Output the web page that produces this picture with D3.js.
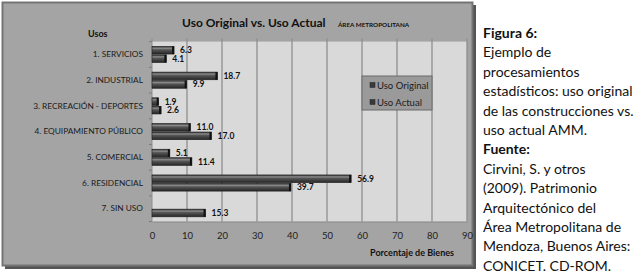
<!DOCTYPE html>
<html>
<head>
<meta charset="utf-8">
<script src="https://cdn.jsdelivr.net/npm/d3@7"></script>
<style>
  body { margin: 0; background: #fff; }
  svg text { font-family: Lato, "Open Sans", sans-serif; }
</style>
</head>
<body>
<svg id="chart"></svg>
<script>
// data
var categories = ["1. SERVICIOS", "2. INDUSTRIAL", "3. RECREACIÓN - DEPORTES",
                  "4. EQUIPAMIENTO PÚBLICO", "5. COMERCIAL", "6. RESIDENCIAL", "7. SIN USO"]
var usoOriginal = [6.3, 18.7, 1.9, 11.0, 5.1, 56.9, null]
var usoActual = [4.1, 9.9, 2.6, 17.0, 11.4, 39.7, 15.3]
var seriesNames = ["Uso Original", "Uso Actual"]
var xTicks = [0, 10, 20, 30, 40, 50, 60, 70, 80, 90]

var captionLines = [
  {t: "Figura 6:", b: true},
  {t: "Ejemplo de"},
  {t: "procesamientos"},
  {t: "estadísticos: uso original"},
  {t: "de las construcciones vs."},
  {t: "uso actual AMM."},
  {t: "Fuente:", b: true},
  {t: "Cirvini, S. y otros"},
  {t: "(2009). Patrimonio"},
  {t: "Arquitectónico del"},
  {t: "Área Metropolitana de"},
  {t: "Mendoza, Buenos Aires:"},
  {t: "CONICET. CD-ROM."}
]

var dimensions = {
    width: 642,
    height: 275,
    plot: { left: 152, right: 467, top: 41.6, bottom: 221.6 }
}

var svg = d3.select("#chart")
            .attr("width", dimensions.width)
            .attr("height", dimensions.height)

var defs = svg.append("defs")
var grad = defs.append("linearGradient")
               .attr("id", "barGrad")
               .attr("x1", 0).attr("y1", 0).attr("x2", 0).attr("y2", 1)
grad.append("stop").attr("offset", "0%").attr("stop-color", "#2e2e2e")
grad.append("stop").attr("offset", "25%").attr("stop-color", "#8a8a8a")
grad.append("stop").attr("offset", "45%").attr("stop-color", "#555")
grad.append("stop").attr("offset", "100%").attr("stop-color", "#262626")

// frame with shadow
svg.append("rect")
   .attr("x", 5).attr("y", 5).attr("width", 471).attr("height", 264)
   .attr("fill", "#555")
svg.append("rect")
   .attr("x", 2.5).attr("y", 2.5).attr("width", 470).attr("height", 263)
   .attr("fill", "#a4a4a4")
   .attr("stroke", "#747474")
   .attr("stroke-width", 2)

var p = dimensions.plot

var xScale = d3.scaleLinear()
               .domain([0, 90])
               .range([p.left, p.right])

var yScale = d3.scaleBand()
               .domain(categories)
               .range([p.top, p.bottom])
               .paddingInner(0.34)
               .paddingOuter(0.17)

var subScale = d3.scaleBand()
                 .domain(seriesNames)
                 .range([0, yScale.bandwidth()])

// plot background
svg.append("rect")
   .attr("x", p.left).attr("y", p.top)
   .attr("width", p.right - p.left).attr("height", p.bottom - p.top)
   .attr("fill", "#d9d9d9")

// vertical gridlines
svg.append("g")
   .selectAll("line")
   .data(xTicks.slice(1))
   .enter()
   .append("line")
   .attr("x1", d => xScale(d)).attr("x2", d => xScale(d))
   .attr("y1", p.top - 3).attr("y2", p.bottom)
   .attr("stroke", "#8e8e8e")
   .attr("stroke-width", 1.3)

// axes
var xAxisgen = d3.axisBottom(xScale).tickValues(xTicks).tickSize(0).tickPadding(11)
var xAxis = svg.append("g")
               .attr("transform", `translate(0,${p.bottom})`)
               .call(xAxisgen)
xAxis.select(".domain").attr("stroke", "#8e8e8e")
xAxis.selectAll("text").attr("font-size", 9.5).attr("fill", "#222")
     .style("font-family", "Lato, sans-serif")

var bounds = d3.range(categories.length + 1).map(i => p.top + i * (p.bottom - p.top) / categories.length)
svg.append("g")
   .selectAll("line")
   .data(bounds)
   .enter()
   .append("line")
   .attr("x1", p.left - 3).attr("x2", p.left)
   .attr("y1", d => d).attr("y2", d => d)
   .attr("stroke", "#7a7a7a")
svg.append("line")
   .attr("x1", p.left).attr("x2", p.left)
   .attr("y1", p.top - 3).attr("y2", p.bottom)
   .attr("stroke", "#8e8e8e")

var yAxisgen = d3.axisLeft(yScale).tickSize(0).tickPadding(9)
var yAxis = svg.append("g")
               .attr("transform", `translate(${p.left},0)`)
               .call(yAxisgen)
yAxis.select(".domain").remove()
yAxis.selectAll("text").attr("font-size", 8.3).attr("fill", "#1a1a1a")
     .style("font-family", "Lato, sans-serif")

// bars
var rows = []
categories.forEach((c, i) => {
  rows.push({cat: c, s: seriesNames[0], v: usoOriginal[i]})
  rows.push({cat: c, s: seriesNames[1], v: usoActual[i]})
})
rows = rows.filter(d => d.v !== null)

var bars = svg.append("g")
              .selectAll("g")
              .data(rows)
              .enter()
              .append("g")
              .attr("transform", d => `translate(0,${yScale(d.cat) + subScale(d.s)})`)

bars.append("rect")
    .attr("x", xScale(0))
    .attr("y", 0.4)
    .attr("width", d => xScale(d.v) - xScale(0))
    .attr("height", subScale.bandwidth() - 0.8)
    .attr("fill", "url(#barGrad)")
    .attr("stroke", "#1e1e1e")
    .attr("stroke-width", 0.6)

bars.append("rect")
    .attr("x", d => xScale(d.v) - 2)
    .attr("y", 0.4)
    .attr("width", 2)
    .attr("height", subScale.bandwidth() - 0.8)
    .attr("fill", "#111")

bars.append("text")
    .attr("x", d => xScale(d.v) + 6)
    .attr("y", subScale.bandwidth() / 2 + 3)
    .attr("font-size", 8.5)
    .attr("font-weight", "bold")
    .attr("fill", "#111")
    .text(d => d.v.toFixed(1))

// titles
svg.append("text")
   .attr("x", 182).attr("y", 27)
   .attr("font-size", 12).attr("font-weight", "bold").attr("fill", "#111")
   .text("Uso Original vs. Uso Actual")
svg.append("text")
   .attr("x", 338).attr("y", 26.5)
   .attr("font-size", 6.3).attr("font-weight", "bold").attr("fill", "#111")
   .text("ÁREA METROPOLITANA")
svg.append("text")
   .attr("x", 88).attr("y", 36.5)
   .attr("font-size", 9).attr("font-weight", "bold").attr("fill", "#111")
   .text("Usos")
svg.append("text")
   .attr("x", 454).attr("y", 256)
   .attr("text-anchor", "end")
   .attr("font-size", 9).attr("font-weight", "bold").attr("fill", "#111")
   .text("Porcentaje de Bienes")

// legend
var legend = svg.append("g").attr("transform", "translate(362,76)")
legend.append("rect")
      .attr("width", 70).attr("height", 34)
      .attr("fill", "#9a9a9a").attr("stroke", "#6a6a6a").attr("stroke-width", 1)
var items = legend.selectAll("g.item")
                  .data(seriesNames)
                  .enter()
                  .append("g")
                  .attr("transform", (d, i) => `translate(8,${9 + i * 17})`)
items.append("rect")
     .attr("x", 0).attr("y", -2.5).attr("width", 5).attr("height", 5)
     .attr("fill", "#3a3a3a").attr("stroke", "#222").attr("stroke-width", 0.5)
items.append("text")
     .attr("x", 7).attr("y", 3.5)
     .attr("font-size", 9.5).attr("fill", "#1a1a1a")
     .text(d => d)

// caption on the right
svg.append("g")
   .selectAll("text")
   .data(captionLines)
   .enter()
   .append("text")
   .attr("x", 483)
   .attr("y", (d, i) => 38 + i * 19.4)
   .attr("font-size", 14)
   .attr("font-weight", d => d.b ? "bold" : "normal")
   .attr("fill", "#111")
   .text(d => d.t)
</script>
</body>
</html>
